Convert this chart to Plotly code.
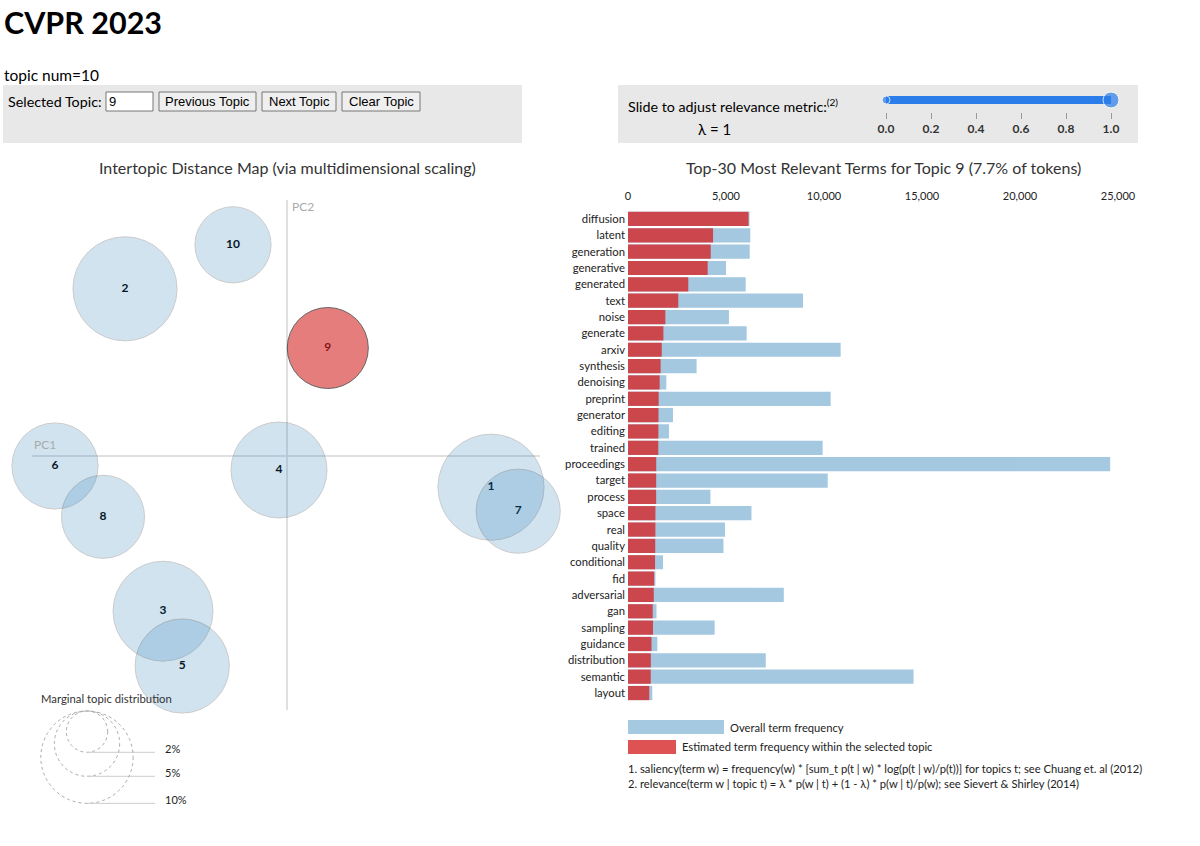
import plotly.graph_objects as go

# --- data -------------------------------------------------------------
topic_ids = [1, 2, 3, 4, 5, 6, 7, 8, 9, 10]
topic_pc1 = [0.255, -0.2025, -0.155, -0.010, -0.131, -0.290, 0.289, -0.230, 0.051, -0.0675]
topic_pc2 = [-0.039, 0.209, -0.194, -0.0175, -0.2625, -0.0125, -0.069, -0.076, 0.135, 0.264]
topic_share = [13.2, 12.7, 11.7, 10.8, 10.4, 8.7, 8.3, 8.1, 7.7, 6.8]   # % of tokens
selected_topic = 9

terms = ['diffusion', 'latent', 'generation', 'generative', 'generated', 'text', 'noise',
         'generate', 'arxiv', 'synthesis', 'denoising', 'preprint', 'generator', 'editing',
         'trained', 'proceedings', 'target', 'process', 'space', 'real', 'quality',
         'conditional', 'fid', 'adversarial', 'gan', 'sampling', 'guidance', 'distribution',
         'semantic', 'layout']
term_total = [6200, 6240, 6210, 5000, 6005, 8930, 5150, 6055, 10850, 3500, 1955, 10340,
              2295, 2090, 9930, 24600, 10190, 4205, 6300, 4950, 4870, 1785, 1400, 7950,
              1455, 4420, 1495, 7030, 14570, 1240]
term_topic = [6150, 4340, 4220, 4065, 3075, 2565, 1905, 1805, 1720, 1665, 1615, 1565,
              1555, 1550, 1545, 1440, 1437, 1435, 1400, 1398, 1390, 1380, 1335, 1315,
              1260, 1275, 1200, 1165, 1160, 1085]
freq_ticks = [0, 5000, 10000, 15000, 20000, 25000]

legend_shares = [2, 5, 10]
lambda_ticks = [0.0, 0.2, 0.4, 0.6, 0.8, 1.0]
lambda_value = 1
slider_bounds = [0, 1]

# --- page geometry ----------------------------------------------------
W, H = 1200, 846
FONT = 'Lato'
RAD = 14.6  # px radius per sqrt(percent)


def fx(x):
    return x / W


def fy(y):
    return 1 - y / H


def note(text, x, y, size, xanchor='left', color='#000', weight='normal', family=FONT):
    # annotations carry ~2px of padding on the left
    shift = -2 if xanchor == 'left' else 0
    return dict(text=text, x=fx(x), y=fy(y), xref='paper', yref='paper', xanchor=xanchor,
                yanchor='middle', showarrow=False, xshift=shift,
                font=dict(size=size, color=color, family=family, weight=weight))


def box(x0, y0, x1, y1, fill, line='rgba(0,0,0,0)'):
    return dict(type='rect', xref='paper', yref='paper', x0=fx(x0), x1=fx(x1),
                y0=fy(y1), y1=fy(y0), fillcolor=fill, line=dict(color=line, width=1), layer='below')


fig = go.Figure()

# intertopic distance map: labels first, translucent circles on top
fig.add_trace(go.Scatter(x=topic_pc1, y=topic_pc2, mode='text', text=[str(t) for t in topic_ids],
                         textfont=dict(size=12, color='#000', family=FONT, weight='bold'),
                         hoverinfo='skip', showlegend=False, cliponaxis=False))
fig.add_trace(go.Scatter(
    x=topic_pc1, y=topic_pc2, mode='markers', showlegend=False, cliponaxis=False,
    marker=dict(size=[2 * RAD * p ** 0.5 for p in topic_share],
                color=['#d62728' if t == selected_topic else '#1f77b4' for t in topic_ids],
                opacity=[0.6 if t == selected_topic else 0.2 for t in topic_ids],
                line=dict(color='black', width=1))))

# term bars
fig.add_trace(go.Bar(y=terms, x=term_total, orientation='h', xaxis='x2', yaxis='y2',
                     marker=dict(color='#1f77b4', line=dict(width=0)), opacity=0.4, showlegend=False))
fig.add_trace(go.Bar(y=terms, x=term_topic, orientation='h', xaxis='x2', yaxis='y2',
                     marker=dict(color='#d62728', line=dict(width=0)), opacity=0.8, showlegend=False))

# relevance slider
SLIDER = '#2b7de9'
fig.add_trace(go.Scatter(x=[slider_bounds[0], lambda_value], y=[0, 0], mode='lines', xaxis='x3', yaxis='y3',
                         line=dict(color=SLIDER, width=8), hoverinfo='skip', showlegend=False,
                         cliponaxis=False))
fig.add_trace(go.Scatter(x=[slider_bounds[0], lambda_value], y=[0, 0], mode='markers', xaxis='x3', yaxis='y3',
                         marker=dict(color=SLIDER, size=[8, 16]), hoverinfo='skip', showlegend=False,
                         cliponaxis=False))

sel_share = topic_share[topic_ids.index(selected_topic)]

annotations = [
    note('CVPR 2023', 4, 22, 30.5, weight='bold'),
    note('topic num=10', 4, 75, 15.5),
    note('Selected Topic:', 8, 101, 14.3),
    note(str(selected_topic), 109, 101, 13, family='Liberation Sans'),
    note('Previous Topic', 207.5, 101, 13, xanchor='center', family='Liberation Sans'),
    note('Next Topic', 299, 101, 13, xanchor='center', family='Liberation Sans'),
    note('Clear Topic', 381, 101, 13, xanchor='center', family='Liberation Sans'),
    note('Slide to adjust relevance metric:<sup>(2)</sup>', 628, 105, 14.3),
    note('λ = %d' % lambda_value, 714, 129, 15, xanchor='center'),
    note('Intertopic Distance Map (via multidimensional scaling)', 287, 167, 16,
         xanchor='center', color='#333'),
    note('Top-%d Most Relevant Terms for Topic %d (%.1f%% of tokens)' % (len(terms), selected_topic, sel_share),
         883, 167, 16, xanchor='center', color='#333'),
    dict(text='PC1', x=-0.31875, y=0, xref='x', yref='y', xanchor='left', yanchor='bottom',
         yshift=2, showarrow=False, font=dict(size=12, color='#aaa', family=FONT)),
    dict(text='PC2', x=0, y=fy(197), xref='x', yref='paper', xanchor='left', yanchor='top',
         xshift=3, showarrow=False, font=dict(size=12, color='#aaa', family=FONT)),
    note('Marginal topic distribution', 41, 698, 11.3, color='#333'),
    note('Overall term frequency', 730, 727, 11.2, color='#222'),
    note('Estimated term frequency within the selected topic', 682, 746, 11.2, color='#222'),
    note('1. saliency(term w) = frequency(w) * [sum_t p(t | w) * log(p(t | w)/p(t))] for topics t; '
         'see Chuang et. al (2012)', 628, 768, 11.2, color='#222'),
    note('2. relevance(term w | topic t) = λ * p(w | t) + (1 - λ) * p(w | t)/p(w); '
         'see Sievert & Shirley (2014)', 628, 783, 11.2, color='#222'),
]

shapes = [
    box(3, 85, 522, 143, '#e8e8e8'),
    box(618, 85, 1138, 143, '#e8e8e8'),
    box(106, 92, 153, 111, 'white', '#767676'),
    box(159, 92, 256, 111, '#efefef', '#767676'),
    box(262, 92, 336, 111, '#efefef', '#767676'),
    box(342, 92, 420, 111, '#efefef', '#767676'),
    box(628, 720, 724, 734, 'rgba(31,119,180,0.4)'),
    box(628, 740, 676, 754, 'rgba(214,39,40,0.8)'),
]

# marginal topic distribution legend: circles hang from a common top point
leg_cx, leg_top = fx(87), fy(711)
for s in legend_shares:
    r = RAD * s ** 0.5
    shapes.append(dict(type='circle', xref='paper', yref='paper', xsizemode='pixel', ysizemode='pixel',
                       xanchor=leg_cx, yanchor=leg_top, x0=-r, x1=r, y0=-2 * r, y1=0,
                       line=dict(color='#aaa', width=1, dash='dot')))
    shapes.append(dict(type='line', xref='paper', yref='paper', xsizemode='pixel', ysizemode='pixel',
                       xanchor=leg_cx, yanchor=leg_top, x0=0, x1=68, y0=-2 * r, y1=-2 * r,
                       line=dict(color='#ccc', width=1)))
    annotations.append(dict(text='%d%%' % s, x=fx(165), y=leg_top, xref='paper', yref='paper',
                            xanchor='left', yanchor='middle', yshift=-2 * r + 4, xshift=-2,
                            showarrow=False, font=dict(size=11, color='#222', family=FONT)))

fig.update_layout(
    width=W, height=H,
    margin=dict(l=0, r=0, t=0, b=0, autoexpand=False),
    paper_bgcolor='white', plot_bgcolor='white',
    font=dict(family=FONT, color='#222'),
    barmode='overlay', bargap=0.13,
    xaxis=dict(domain=[fx(32), fx(540)], range=[-0.31875, 0.31625], showgrid=False,
               zeroline=True, zerolinecolor='#e0e0e0', zerolinewidth=1.5, automargin=False,
               showticklabels=False, ticks='', anchor='y'),
    yaxis=dict(domain=[fy(710), fy(200)], range=[-0.3175, 0.32], showgrid=False,
               zeroline=True, zerolinecolor='#e0e0e0', zerolinewidth=1.5, automargin=False,
               showticklabels=False, ticks='', anchor='x'),
    xaxis2=dict(domain=[fx(628), fx(1118)], range=[0, 25000], side='top', anchor='y2',
                tickvals=freq_ticks, tickformat=',', showgrid=False, zeroline=False, automargin=False,
                ticks='', ticklabelstandoff=8, tickfont=dict(size=11, color='#222')),
    yaxis2=dict(domain=[fy(701.2), fy(210.8)], anchor='x2', type='category',
                categoryorder='array', categoryarray=terms, autorange='reversed', automargin=False,
                showgrid=False, zeroline=False, ticks='', ticklabelstandoff=2,
                tickfont=dict(size=11.3, color='#222')),
    xaxis3=dict(domain=[fx(886), fx(1111)], range=[0, 1], anchor='y3', tickvals=lambda_ticks,
                ticktext=['%.1f' % v for v in lambda_ticks], ticks='outside', ticklen=6,
                tickcolor='#999', showgrid=False, zeroline=False, showline=False, automargin=False,
                tickfont=dict(size=12, color='#333', weight='bold')),
    yaxis3=dict(domain=[fy(112), fy(92)], range=[-1.5, 1], visible=False, anchor='x3',
                automargin=False),
    annotations=annotations,
    shapes=shapes,
)

# the page body default margin would push the figure off the 1200x846 window
fig.write_html("out.html", config={'displayModeBar': False},
               post_script="document.body.style.margin='0';"
                           "document.documentElement.style.overflow='hidden';")
